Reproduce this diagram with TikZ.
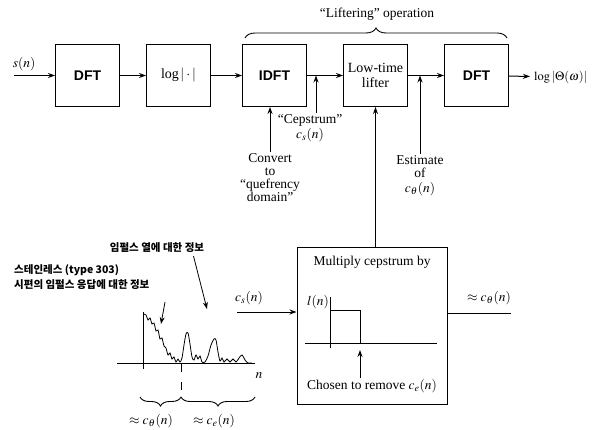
\documentclass[tikz,border=0pt]{standalone}
\usepackage{mathptmx}
\usepackage{fontspec}
\setmainfont{Liberation Serif}
\setsansfont{Liberation Sans}
\newfontfamily\korfont{Noto Sans CJK KR}
\usetikzlibrary{arrows.meta, positioning, calc, decorations.pathreplacing}

\begin{document}
\begin{tikzpicture}[
    x=1pt, y=-1pt,
    node distance=26pt,
    block/.style={
        draw,
        line width=1pt,
        minimum width=64pt,
        minimum height=62pt,
        inner sep=1pt,
        align=center,
        font=\fontsize{14}{15}\selectfont
    },
    boldblock/.style={
        block,
        font=\sffamily\bfseries\fontsize{14}{16}\selectfont
    },
    arrow/.style={-{Stealth[length=7pt,width=5pt]}, line width=1pt},
    note/.style={font=\fontsize{13.5}{13}\selectfont, align=center, inner sep=1pt},
    kor/.style={font=\korfont\bfseries\fontsize{10.5}{15}\selectfont, align=left, inner sep=1pt},
    curly/.style={decorate, decoration={brace, amplitude=#1}, line width=0.9pt}
]
    \useasboundingbox (0,0) rectangle (609,430);

    % Processing chain
    \node[boldblock] (dft) at (87.5,75.5) {DFT};
    \node[block, right=of dft] (logabs) {log$\,|\cdot|$};
    \node[boldblock, right=31pt of logabs] (idft) {IDFT};
    \node[block, right=36pt of idft] (lifter) {Low-time\\lifter};
    \node[boldblock, right=36pt of lifter] (dftout) {DFT};

    \coordinate (sin) at (14,75.5);
    \node[note] (slbl) at (24,64) {$s(n)$};
    \node[note, anchor=west, font=\fontsize{12.5}{13}\selectfont] (outlbl) at (533,77) {$\log|\Theta(\omega)|$};

    % Main forward flow
    \draw[arrow] (sin) -- (dft);
    \draw[arrow] (dft) -- (logabs);
    \draw[arrow] (logabs) -- (idft);
    \draw[arrow] (idft) -- (lifter);
    \draw[arrow] (lifter) -- (dftout);
    \draw[arrow, shorten >=3pt] (dftout) -- (outlbl);

    % Liftering brace
    \draw[curly=10pt] ($(idft.north west)+(3,-6)$) -- ($(dftout.north east)+(-2,-6)$);
    \node[note] (liftlbl) at (377,14) {``Liftering'' operation};

    % Side notes
    \node[note, anchor=north] (ceplbl) at (310,113) {``Cepstrum''\\[2pt]$c_s(n)$};
    \draw[arrow] ([xshift=6pt]ceplbl.north) -- ([xshift=6pt]ceplbl.north |- idft.east);
    \node[note, anchor=north] (convlbl) at (270,152) {Convert\\to\\``quefrency\\domain''};
    \draw[arrow] (convlbl.north) -- (convlbl.north |- idft.south);
    \node[note, anchor=north] (estlbl) at (420,154) {Estimate\\of\\[2pt]$c_\theta(n)$};
    \draw[arrow] (estlbl.north) -- (estlbl.north |- lifter.east);

    % Multiplication window
    \node[draw, line width=1pt, minimum width=150pt, minimum height=157pt] (mult) at (372,325.5) {};
    \node[note, below=8pt of mult.north] (multlbl) {Multiply cepstrum by};
    \draw[arrow] (mult.north -| lifter.south) -- (lifter.south);
    \draw[line width=1pt] (305,343) -- (437,343);
    \draw[line width=1pt] (330,297) -- (330,348);
    \draw[line width=1pt] (330,310) -- (360,310) -- (360,343);
    \node[note, anchor=east] (lnlbl) at (330,302) {$l(n)$};
    \coordinate (cut) at (360,343);
    \node[note] (chosen) at (372,386) {Chosen to remove $c_e(n)$};
    \draw[arrow] (chosen.north -| cut) -- ([yshift=-7pt]cut);

    \coordinate (csin) at (237,312);
    \node[note] (cslbl) at (249,298) {$c_s(n)$};
    \draw[arrow] (csin) -- (csin -| mult.west);
    \coordinate (cthout) at (511,313);
    \node[note] (cthlbl) at (489,298) {$\approx c_\theta(n)$};
    \draw[line width=1pt] (cthout -| mult.east) -- (cthout);

    % Cepstrum sketch
    \draw[line width=0.9pt] (117,363) -- (255,363);
    \draw[line width=0.9pt] (143,312) -- (143,369);
    \draw[line width=0.8pt] plot[smooth, tension=0.5] coordinates {
        (143,314) (146,315) (148,320) (150,318) (152,324) (154,323) (156,331)
        (158,330) (160,339) (162,338) (164,346) (166,348) (168,355) (170,353)
        (172,359) (174,357) (176,362) (178,359) (180,362) (182,358) (184,345)
        (186,334) (188,333) (190,344) (192,357) (194,360) (196,355) (198,359)
        (200,356) (202,362) (205,362) (208,356) (211,345) (214,339) (216,340)
        (218,352) (220,361) (222,358) (224,362) (227,359) (230,362) (233,359)
        (236,362) (239,358) (242,355) (245,360) (248,363) (252,363)};
    \node[note] (nlbl) at (259,376) {$n$};
    \draw[line width=0.8pt, dash pattern=on 8pt off 10pt] (181,364) -- (181,390);
    \draw[curly=9pt] (181,397) -- (140,397);
    \draw[curly=9pt] (255,397) -- (181,397);
    \node[note] (cthlow) at (151,421) {$\approx c_\theta(n)$};
    \node[note] (celow) at (214,421) {$\approx c_e(n)$};

    % Korean annotations
    \node[kor] (train) at (157,248) {임펄스 열에 대한 정보};
    \node[kor, anchor=north west] (steel) at (13,263) {스테인레스 (type 303)\\시편의 임펄스 응답에 대한 정보};
    \coordinate (pktrain) at (207,309);
    \coordinate (pkresp) at (161,324);
    \draw[arrow, line width=0.8pt, shorten <=2pt] ([xshift=36pt]train.south) -- (pktrain);
    \draw[arrow, line width=0.8pt] (165,302) -- (pkresp);
\end{tikzpicture}
\end{document}
